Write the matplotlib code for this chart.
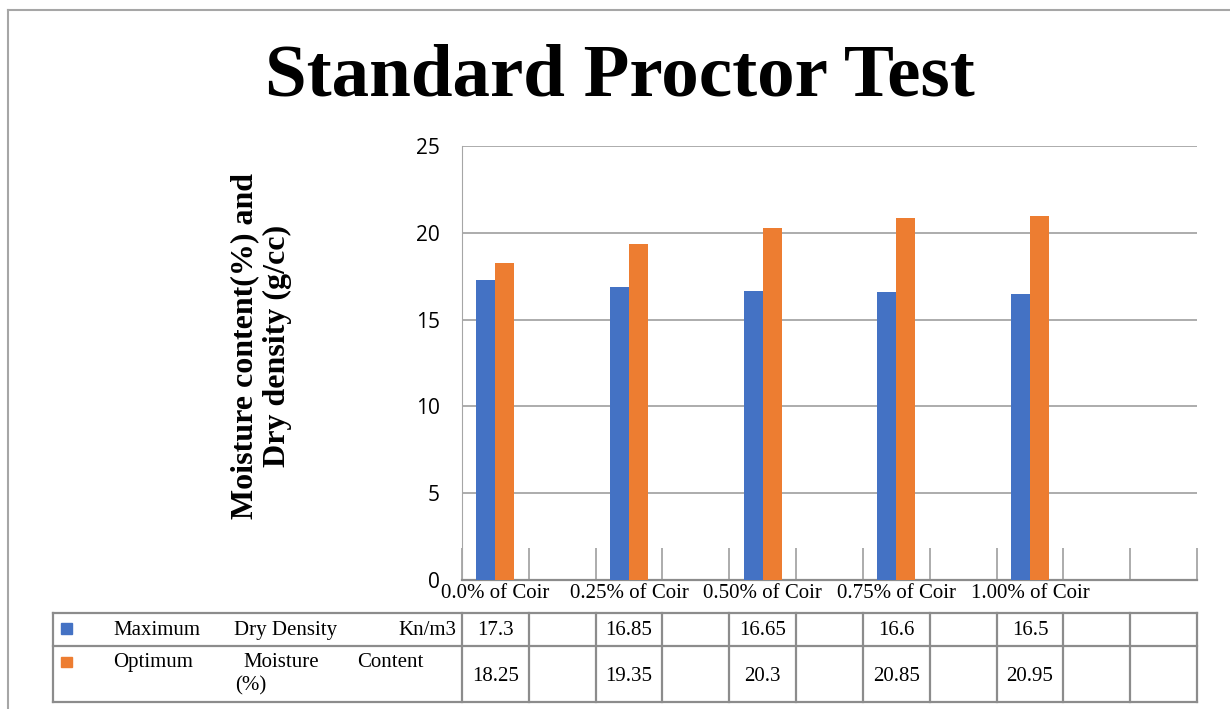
import numpy as np
import matplotlib.pyplot as plt
import matplotlib.transforms as mtransforms
from matplotlib.lines import Line2D
from matplotlib.patches import Rectangle

### DATA ###

categories = ['0.0% of Coir', '', '0.25% of Coir', '', '0.50% of Coir', '', '0.75% of Coir', '', '1.00% of Coir', '', '']
dryDensity = [17.3, np.nan, 16.85, np.nan, 16.65, np.nan, 16.6, np.nan, 16.5, np.nan, np.nan]
moisture = [18.25, np.nan, 19.35, np.nan, 20.3, np.nan, 20.85, np.nan, 20.95, np.nan, np.nan]
seriesNames = ['Maximum Dry Density Kn/m3', 'Optimum Moisture Content (%)']
colors = ['#4472C4', '#ED7D31']
yticks = [0, 5, 10, 15, 20, 25]

### PLOTTING ###

W, H = 1230, 709
fig = plt.figure(figsize=(W/100, H/100), dpi=100)
plt.rcParams['font.family'] = 'Liberation Serif'
serif = 'Liberation Serif'
grey = '#a6a6a6'
tgrey = '#8c8c8c'

ax = fig.add_axes([462/W, 1-580/H, (1197-462)/W, (580-146)/H])
x = np.arange(len(categories))
bw = 0.285
ax.bar(x - bw/2, dryDensity, bw, color=colors[0], zorder=3)
ax.bar(x + bw/2, moisture, bw, color=colors[1], zorder=3)

ax.set_xlim(-0.5, len(categories)-0.5)
ax.set_ylim(0, 25)
ax.set_yticks(yticks)
ax.set_yticklabels([str(v) for v in yticks], family='Open Sans', fontsize=15)
ax.tick_params(axis='y', length=0, pad=16)
ax.yaxis.grid(True, color=grey, lw=1.3, zorder=0)
ax.set_xticks(x)
ax.set_xticklabels(categories, family=serif, fontsize=15)
ax.tick_params(axis='x', which='major', length=0, pad=3)
ax.set_xticks(np.arange(-0.5, len(categories), 1), minor=True)
ax.tick_params(axis='x', which='minor', direction='in', length=23, width=1.3, color=grey)
for s in ['top', 'right']:
    ax.spines[s].set_visible(False)
ax.spines['left'].set_color(grey)
ax.spines['bottom'].set_color(tgrey)
ax.spines['bottom'].set_linewidth(1.6)

fig.text(620/W, 1-95/H, 'Standard Proctor Test', ha='center', va='baseline',
         family=serif, fontweight='bold', fontsize=54)
fig.text(261/W, 1-346/H, 'Moisture content(%) and\nDry density (g/cc)', ha='center', va='center',
         rotation=90, family=serif, fontweight='bold', fontsize=23, linespacing=1.15)

# data table under the axis
tr = mtransforms.blended_transform_factory(ax.transData, fig.transFigure)
yt, ym, yb = 1-613/H, 1-646/H, 1-702/H
for yy in [yt, ym, yb]:
    fig.add_artist(Line2D([53/W, 1197/W], [yy, yy], color=tgrey, lw=1.6))
fig.add_artist(Line2D([53/W, 53/W], [yb, yt], color=tgrey, lw=1.6))
for b in np.arange(-0.5, len(categories), 1):
    fig.add_artist(Line2D([b, b], [yb, yt], color=tgrey, lw=1.6, transform=tr))
for i in range(len(categories)):
    if not np.isnan(dryDensity[i]):
        fig.text(i, 1-635/H, str(dryDensity[i]), ha='center', va='baseline', fontsize=15, transform=tr)
    if not np.isnan(moisture[i]):
        fig.text(i, 1-681/H, str(moisture[i]), ha='center', va='baseline', fontsize=15, transform=tr)

fig.add_artist(Rectangle((61/W, 1-634/H), 11/W, 11/H, color=colors[0]))
fig.add_artist(Rectangle((61/W, 1-667/H), 11/W, 10/H, color=colors[1]))
w1 = seriesNames[0].split()
fig.text(113/W, 1-635/H, w1[0], ha='left', va='baseline', fontsize=15)
fig.text(234/W, 1-635/H, w1[1] + ' ' + w1[2], ha='left', va='baseline', fontsize=15)
fig.text(456/W, 1-635/H, w1[3], ha='right', va='baseline', fontsize=15)
w2 = seriesNames[1].split()
fig.text(113/W, 1-667/H, w2[0], ha='left', va='baseline', fontsize=15)
fig.text(243/W, 1-667/H, w2[1], ha='left', va='baseline', fontsize=15)
fig.text(357/W, 1-667/H, w2[2], ha='left', va='baseline', fontsize=15)
fig.text(235/W, 1-690/H, w2[3], ha='left', va='baseline', fontsize=15)

# outer frame
fig.add_artist(Line2D([8/W, 1], [1-10/H, 1-10/H], color=grey, lw=1.5))
fig.add_artist(Line2D([8/W, 8/W], [0, 1-10/H], color=grey, lw=1.5))

plt.savefig('out.png', dpi=100)
